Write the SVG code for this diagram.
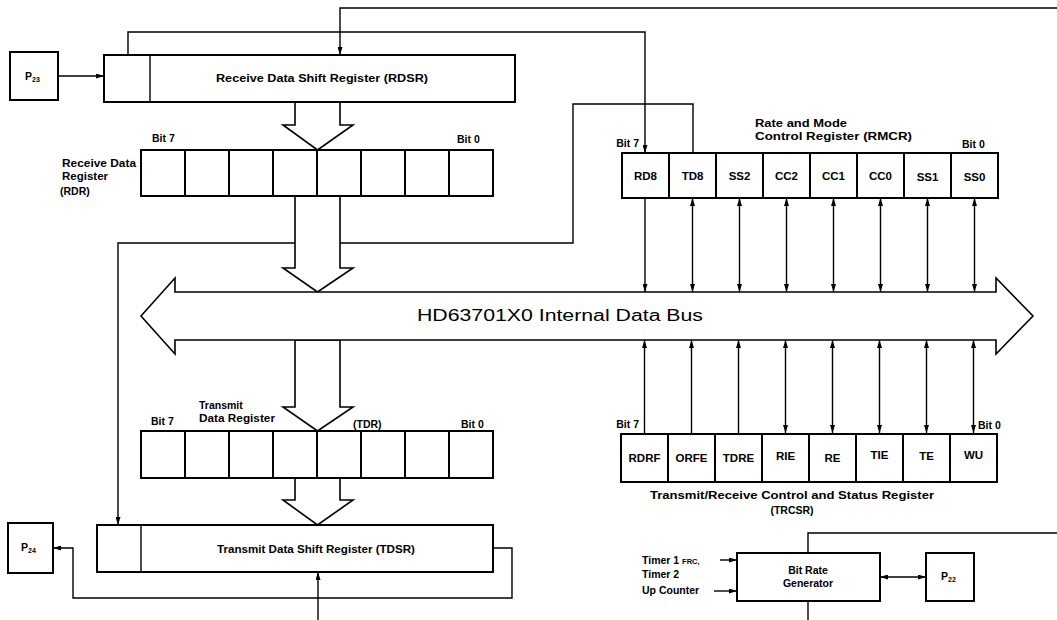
<svg xmlns="http://www.w3.org/2000/svg" width="1057" height="620" viewBox="0 0 1057 620">
<style>
.bx{fill:#fff;stroke:#000;stroke-width:2}
.ln{fill:none;stroke:#000;stroke-width:1.4}
.wa{fill:#fff;stroke:#000;stroke-width:1.6;stroke-linejoin:miter}
.t{font-family:"Liberation Sans",Arial,sans-serif;font-size:10.5px;font-weight:bold;fill:#000}
.c{text-anchor:middle}
.cl{font-family:"Liberation Sans",Arial,sans-serif;font-size:11.5px;font-weight:bold;fill:#000;text-anchor:middle}
.bus{font-family:"Liberation Sans",Arial,sans-serif;font-size:16px;fill:#000;text-anchor:middle}
</style>
<defs>
<marker id="ah" viewBox="0 0 8 5" refX="8" refY="2.5" markerWidth="8" markerHeight="5" markerUnits="userSpaceOnUse" orient="auto-start-reverse">
<path d="M0,0 L8,2.5 L0,5 z" fill="#000"/>
</marker>
</defs>
<rect width="1057" height="620" fill="#fff"/>

<g id="connectors">
<polyline class="ln" points="1057,8 340,8 340,55" marker-end="url(#ah)"/>
<polyline class="ln" points="128,55 128,32 645,32 645,153" marker-end="url(#ah)"/>
<line class="ln" x1="58" y1="76" x2="104" y2="76" marker-end="url(#ah)"/>
<polyline class="ln" points="693,153 693,104 573,104 573,243 118,243 118,525" marker-end="url(#ah)"/>
<polyline class="ln" points="493,548 512,548 512,598 73,598 73,548 53,548" marker-end="url(#ah)"/>
<line class="ln" x1="318" y1="620" x2="318" y2="572" marker-end="url(#ah)"/>
<line class="ln" x1="645" y1="198" x2="645" y2="292" marker-end="url(#ah)"/>
<line class="ln" x1="692.5" y1="198" x2="692.5" y2="292" marker-start="url(#ah)" marker-end="url(#ah)"/>
<line class="ln" x1="739.5" y1="198" x2="739.5" y2="292" marker-start="url(#ah)" marker-end="url(#ah)"/>
<line class="ln" x1="786.5" y1="198" x2="786.5" y2="292" marker-start="url(#ah)" marker-end="url(#ah)"/>
<line class="ln" x1="833.5" y1="198" x2="833.5" y2="292" marker-start="url(#ah)" marker-end="url(#ah)"/>
<line class="ln" x1="880.5" y1="198" x2="880.5" y2="292" marker-start="url(#ah)" marker-end="url(#ah)"/>
<line class="ln" x1="927.5" y1="198" x2="927.5" y2="292" marker-start="url(#ah)" marker-end="url(#ah)"/>
<line class="ln" x1="974.5" y1="198" x2="974.5" y2="292" marker-start="url(#ah)" marker-end="url(#ah)"/>
<line class="ln" x1="644.5" y1="433" x2="644.5" y2="340" marker-end="url(#ah)"/>
<line class="ln" x1="691.5" y1="433" x2="691.5" y2="340" marker-end="url(#ah)"/>
<line class="ln" x1="738.5" y1="433" x2="738.5" y2="340" marker-end="url(#ah)"/>
<line class="ln" x1="785.5" y1="433" x2="785.5" y2="340" marker-start="url(#ah)" marker-end="url(#ah)"/>
<line class="ln" x1="832.5" y1="433" x2="832.5" y2="340" marker-start="url(#ah)" marker-end="url(#ah)"/>
<line class="ln" x1="879.5" y1="433" x2="879.5" y2="340" marker-start="url(#ah)" marker-end="url(#ah)"/>
<line class="ln" x1="926.5" y1="433" x2="926.5" y2="340" marker-start="url(#ah)" marker-end="url(#ah)"/>
<line class="ln" x1="973.5" y1="433" x2="973.5" y2="340" marker-start="url(#ah)" marker-end="url(#ah)"/>
<polyline class="ln" points="808,553 808,533 1057,533"/>
<line class="ln" x1="808" y1="601" x2="808" y2="620"/>
<line class="ln" x1="880" y1="577" x2="926" y2="577" marker-start="url(#ah)" marker-end="url(#ah)"/>
<line class="ln" x1="720" y1="560" x2="737" y2="560" marker-end="url(#ah)"/>
<line class="ln" x1="714" y1="591" x2="737" y2="591" marker-end="url(#ah)"/>
<polygon class="wa" points="295,102 295,125 283,125 317.5,150 353,125 340,125 340,102"/>
<polygon class="wa" points="295,196 295,268 283,268 317.5,292 353,268 340,268 340,196"/>
<polygon class="wa" points="295,340 295,407 283,407 317.5,431 353,407 340,407 340,340"/>
<polygon class="wa" points="295,478 295,500 283,500 317.5,525 353,500 340,500 340,478"/>
</g>

<g id="p23">
<rect class="bx" x="10" y="52" width="48" height="48"/>
<text class="t" x="25" y="80" font-size="11">P<tspan font-size="7" dy="2">23</tspan></text>
</g>

<g id="rdsr">
<rect class="bx" x="104" y="55" width="411" height="47"/>
<line class="ln" x1="150" y1="55" x2="150" y2="102" stroke-width="2"/>
<text class="t" x="216" y="82" textLength="212" lengthAdjust="spacingAndGlyphs">Receive Data Shift Register (RDSR)</text>
</g>

<g id="rdr">
<rect class="bx" x="141" y="150" width="44" height="46"/>
<rect class="bx" x="185" y="150" width="44" height="46"/>
<rect class="bx" x="229" y="150" width="44" height="46"/>
<rect class="bx" x="273" y="150" width="44" height="46"/>
<rect class="bx" x="317" y="150" width="44" height="46"/>
<rect class="bx" x="361" y="150" width="44" height="46"/>
<rect class="bx" x="405" y="150" width="44" height="46"/>
<rect class="bx" x="449" y="150" width="44" height="46"/>
<text class="t" x="152" y="142">Bit 7</text>
<text class="t" x="457" y="143">Bit 0</text>
<text class="t" x="62" y="167" textLength="74" lengthAdjust="spacingAndGlyphs">Receive Data</text>
<text class="t" x="62" y="180" textLength="46" lengthAdjust="spacingAndGlyphs">Register</text>
<text class="t" x="60" y="195">(RDR)</text>
</g>

<g id="bus">
<polygon class="wa" points="141,316 175,278 175,292 996,292 996,278 1033,316 996,354 996,340 175,340 175,354"/>
<text class="bus" x="560" y="321" textLength="286" lengthAdjust="spacingAndGlyphs">HD63701X0 Internal Data Bus</text>
</g>

<g id="tdr">
<rect class="bx" x="141" y="431" width="44" height="47"/>
<rect class="bx" x="185" y="431" width="44" height="47"/>
<rect class="bx" x="229" y="431" width="44" height="47"/>
<rect class="bx" x="273" y="431" width="44" height="47"/>
<rect class="bx" x="317" y="431" width="44" height="47"/>
<rect class="bx" x="361" y="431" width="44" height="47"/>
<rect class="bx" x="405" y="431" width="44" height="47"/>
<rect class="bx" x="449" y="431" width="44" height="47"/>
<text class="t" x="151" y="425">Bit 7</text>
<text class="t" x="199" y="409">Transmit</text>
<text class="t" x="199" y="422" textLength="76" lengthAdjust="spacingAndGlyphs">Data Register</text>
<text class="t" x="353" y="428">(TDR)</text>
<text class="t" x="461" y="428">Bit 0</text>
</g>

<g id="tdsr">
<rect class="bx" x="97" y="525" width="396" height="47"/>
<line class="ln" x1="141" y1="525" x2="141" y2="572" stroke-width="2"/>
<text class="t" x="217" y="553" textLength="198" lengthAdjust="spacingAndGlyphs">Transmit Data Shift Register (TDSR)</text>
</g>

<g id="p24">
<rect class="bx" x="8" y="523" width="45" height="50"/>
<text class="t" x="21" y="551" font-size="11">P<tspan font-size="7" dy="2">24</tspan></text>
</g>

<g id="rmcr">
<rect class="bx" x="622" y="153" width="47" height="45"/>
<rect class="bx" x="669" y="153" width="47" height="45"/>
<rect class="bx" x="716" y="153" width="47" height="45"/>
<rect class="bx" x="763" y="153" width="47" height="45"/>
<rect class="bx" x="810" y="153" width="47" height="45"/>
<rect class="bx" x="857" y="153" width="47" height="45"/>
<rect class="bx" x="904" y="153" width="47" height="45"/>
<rect class="bx" x="951" y="153" width="47" height="45"/>
<text class="cl" x="645.5" y="180">RD8</text>
<text class="cl" x="692.5" y="180">TD8</text>
<text class="cl" x="739.5" y="180">SS2</text>
<text class="cl" x="786.5" y="180">CC2</text>
<text class="cl" x="833.5" y="180">CC1</text>
<text class="cl" x="880.5" y="180">CC0</text>
<text class="cl" x="927.5" y="181">SS1</text>
<text class="cl" x="974.5" y="181">SS0</text>
<text class="t" x="755" y="127" textLength="92" lengthAdjust="spacingAndGlyphs">Rate and Mode</text>
<text class="t" x="755" y="140" textLength="157" lengthAdjust="spacingAndGlyphs">Control Register  (RMCR)</text>
<text class="t" x="639" y="147" text-anchor="end">Bit 7</text>
<text class="t" x="962" y="148">Bit 0</text>
</g>

<g id="trcsr">
<rect class="bx" x="621" y="434" width="47" height="48"/>
<rect class="bx" x="668" y="434" width="47" height="48"/>
<rect class="bx" x="715" y="434" width="47" height="48"/>
<rect class="bx" x="762" y="434" width="47" height="48"/>
<rect class="bx" x="809" y="434" width="47" height="48"/>
<rect class="bx" x="856" y="434" width="47" height="48"/>
<rect class="bx" x="903" y="434" width="47" height="48"/>
<rect class="bx" x="950" y="434" width="47" height="48"/>
<text class="cl" x="644.5" y="462">RDRF</text>
<text class="cl" x="691.5" y="462">ORFE</text>
<text class="cl" x="738.5" y="462">TDRE</text>
<text class="cl" x="785.5" y="460">RIE</text>
<text class="cl" x="832.5" y="462">RE</text>
<text class="cl" x="879.5" y="459">TIE</text>
<text class="cl" x="926.5" y="460">TE</text>
<text class="cl" x="973.5" y="459">WU</text>
<text class="t" x="639" y="428" text-anchor="end">Bit 7</text>
<text class="t" x="978" y="429">Bit 0</text>
<text class="t" x="650" y="499" textLength="284" lengthAdjust="spacingAndGlyphs">Transmit/Receive Control and Status Register</text>
<text class="t c" x="792" y="514">(TRCSR)</text>
</g>

<g id="brg">
<rect class="bx" x="737" y="553" width="143" height="48"/>
<text class="t c" x="808" y="574" font-size="11">Bit Rate</text>
<text class="t c" x="808" y="587" font-size="11">Generator</text>
<text class="t" x="642" y="564" font-size="11">Timer 1 <tspan font-size="7.5">FRC,</tspan></text>
<text class="t" x="642" y="578" font-size="11">Timer 2</text>
<text class="t" x="642" y="594" font-size="11.5">Up Counter</text>
</g>

<g id="p22">
<rect class="bx" x="926" y="553" width="48" height="48"/>
<text class="t" x="941" y="580" font-size="11">P<tspan font-size="7" dy="2">22</tspan></text>
</g>
</svg>
